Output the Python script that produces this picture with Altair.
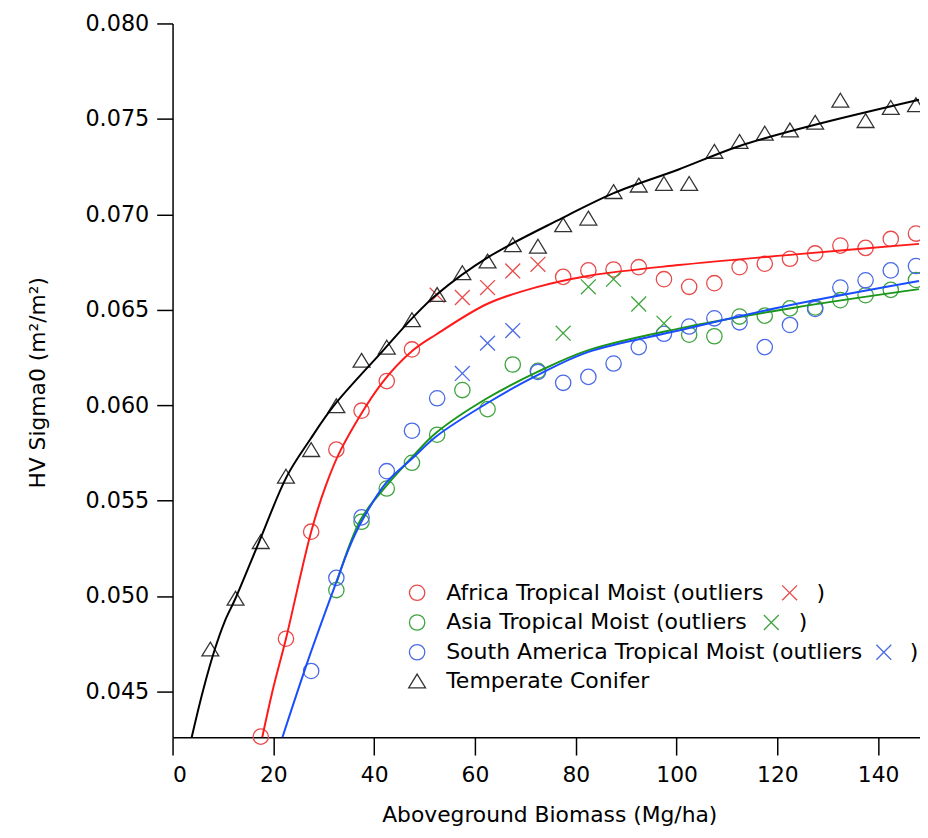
import altair as alt
import pandas as pd

# ---------------- data ----------------
series_names = ["Africa Tropical Moist", "Asia Tropical Moist",
                "South America Tropical Moist", "Temperate Conifer"]

africa_x = [17.5, 22.5, 27.5, 32.5, 37.5, 42.5, 47.5, 77.5, 82.5, 87.5, 92.5,
            97.5, 102.5, 107.5, 112.5, 117.5, 122.5, 127.5, 132.5, 137.5, 142.5, 147.5]
africa_y = [0.04263, 0.04776, 0.05337, 0.05767, 0.05971, 0.06126, 0.06292, 0.06672,
            0.06706, 0.06711, 0.06723, 0.06660, 0.06620, 0.06639, 0.06723, 0.06741,
            0.06767, 0.06795, 0.06836, 0.06824, 0.06871, 0.06899]
africa_out_x = [52.5, 57.5, 62.5, 67.5, 72.5]
africa_out_y = [0.06576, 0.06564, 0.06616, 0.06703, 0.06738]

asia_x = [32.5, 37.5, 42.5, 47.5, 52.5, 57.5, 62.5, 67.5, 72.5, 102.5, 107.5,
          112.5, 117.5, 122.5, 127.5, 132.5, 137.5, 142.5, 147.5]
asia_y = [0.05031, 0.05389, 0.05563, 0.05698, 0.05845, 0.06079, 0.05979, 0.06213,
          0.06180, 0.06369, 0.06361, 0.06464, 0.06469, 0.06507, 0.06512, 0.06550,
          0.06576, 0.06604, 0.06656]
asia_out_x = [77.5, 82.5, 87.5, 92.5, 97.5]
asia_out_y = [0.06377, 0.06620, 0.06660, 0.06530, 0.06429]

samerica_x = [27.5, 32.5, 37.5, 42.5, 47.5, 52.5, 72.5, 77.5, 82.5, 87.5, 92.5,
              97.5, 102.5, 107.5, 112.5, 117.5, 122.5, 127.5, 132.5, 137.5, 142.5, 147.5]
samerica_y = [0.04607, 0.05095, 0.05412, 0.05654, 0.05866, 0.06036, 0.06174, 0.06117,
              0.06148, 0.06218, 0.06304, 0.06374, 0.06412, 0.06455, 0.06434, 0.06304,
              0.06420, 0.06504, 0.06616, 0.06654, 0.06706, 0.06729]
samerica_out_x = [57.5, 62.5, 67.5]
samerica_out_y = [0.06166, 0.06325, 0.06391]

conifer_x = [7.5, 12.5, 17.5, 22.5, 27.5, 32.5, 37.5, 42.5, 47.5, 52.5, 57.5, 62.5,
             67.5, 72.5, 77.5, 82.5, 87.5, 92.5, 97.5, 102.5, 107.5, 112.5, 117.5,
             122.5, 127.5, 132.5, 137.5, 142.5, 147.5]
conifer_y = [0.04722, 0.04988, 0.05285, 0.05628, 0.05767, 0.05997, 0.06235, 0.06304,
             0.06448, 0.06580, 0.06694, 0.06755, 0.06841, 0.06833, 0.06945, 0.06980,
             0.07119, 0.07153, 0.07162, 0.07162, 0.07330, 0.07382, 0.07425, 0.07442,
             0.07482, 0.07598, 0.07491, 0.07560, 0.07574]

# fitted curves
africa_fit_x = [17.8, 20.0, 22.5, 27.5, 30.3, 33.4, 41.5, 47.7, 52.3, 62.4, 71.9, 82.4,
                100.4, 123.6, 148.1]
africa_fit_y = [0.0426, 0.0452, 0.04776, 0.05337, 0.0557, 0.05767, 0.06114, 0.06287,
                0.0637, 0.0653, 0.06616, 0.06677, 0.06734, 0.0679, 0.06845]
asia_fit_x = [32.6, 37.4, 42.5, 47.7, 52.3, 62.4, 72.4, 82.4, 100.4, 123.6, 148.1]
asia_fit_y = [0.05074, 0.05403, 0.0558, 0.05732, 0.05855, 0.06036, 0.06174, 0.06287,
              0.06401, 0.06512, 0.06608]
samerica_fit_x = [21.8, 27.05, 32.5, 35.0, 37.5, 42.4, 47.7, 52.3, 62.4, 72.4, 82.4,
                  100.4, 123.6, 148.1]
samerica_fit_y = [0.0426, 0.04676, 0.05074, 0.0525, 0.0539, 0.05594, 0.05724, 0.05836,
                  0.0601, 0.06157, 0.06278, 0.06391, 0.0653, 0.06651]
conifer_fit_x = [3.8, 6.0, 8.4, 10.4, 12.5, 17.2, 22.7, 27.3, 32.0, 41.8, 47.7, 52.4,
                 62.4, 77.3, 87.4, 100.4, 112.5, 126.9, 148.1]
conifer_fit_y = [0.0426, 0.0450, 0.04722, 0.0487, 0.04988, 0.05285, 0.05628, 0.0582,
                 0.05997, 0.06287, 0.0646, 0.0658, 0.06772, 0.0698, 0.0711, 0.07235,
                 0.07358, 0.07465, 0.076]

x_ticks = [0, 20, 40, 60, 80, 100, 120, 140]
y_ticks = [0.045, 0.050, 0.055, 0.060, 0.065, 0.070, 0.075, 0.080]

legend_labels = ["Africa Tropical Moist (outliers", "Asia Tropical Moist (outliers",
                 "South America Tropical Moist (outliers", "Temperate Conifer"]

# ---------------- styles ----------------
line_colors = ["#ff1a1a", "#1a961a", "#1a4dff", "#000000"]
marker_colors = ["#e84a4a", "#3fa43f", "#4a6ae6", "#333333"]
CROSS = "M-1,-1L1,1M-1,1L1,-1"
TRI = "M0,-0.82L1,0.82L-1,0.82Z"
FONT = "DejaVu Sans"

W, H = 754, 720

X = alt.X("x:Q", scale=alt.Scale(domain=[0, 148.3], nice=False, zero=False),
          axis=alt.Axis(values=x_ticks, title="Aboveground Biomass (Mg/ha)",
                        labelFontSize=22, tickSize=18, labelPadding=10,
                        titleFontSize=22, titleX=380, titleY=78,
                        titleBaseline="middle", titleAlign="center"))
Y = alt.Y("y:Q", scale=alt.Scale(domain=[0.0426, 0.080], nice=False, zero=False),
          axis=alt.Axis(values=y_ticks, format=".3f", title="HV Sigma0 (m²/m²)",
                        labelFontSize=22.5, tickSize=16, labelPadding=8,
                        titleFontSize=22, titleX=-136, titleY=362, titleAngle=270,
                        titleBaseline="middle", titleAlign="center"))

def df(xs, ys):
    return pd.DataFrame({"x": xs, "y": ys})

layers = []
circle_sets = [(africa_x, africa_y), (asia_x, asia_y), (samerica_x, samerica_y)]
out_sets = [(africa_out_x, africa_out_y), (asia_out_x, asia_out_y),
            (samerica_out_x, samerica_out_y)]
fit_sets = [(africa_fit_x, africa_fit_y), (asia_fit_x, asia_fit_y),
            (samerica_fit_x, samerica_fit_y), (conifer_fit_x, conifer_fit_y)]

for i, (xs, ys) in enumerate(circle_sets):
    layers.append(alt.Chart(df(xs, ys)).mark_point(
        shape="circle", filled=False, size=240, strokeWidth=1.3, opacity=1,
        color=marker_colors[i]).encode(x=X, y=Y))
for i, (xs, ys) in enumerate(out_sets):
    layers.append(alt.Chart(df(xs, ys)).mark_point(
        shape=CROSS, filled=False, size=225, strokeWidth=1.3, opacity=1,
        color=marker_colors[i]).encode(x=X, y=Y))
layers.append(alt.Chart(df(conifer_x, conifer_y)).mark_point(
    shape=TRI, filled=False, size=289, strokeWidth=1.3, opacity=1,
    color=marker_colors[3]).encode(x=X, y=Y))
for i, (xs, ys) in enumerate(fit_sets):
    layers.append(alt.Chart(df(xs, ys)).mark_line(
        interpolate="catmull-rom", strokeWidth=2, color=line_colors[i]).encode(x=X, y=Y))

# ---------------- legend ----------------
row_y = [574.3, 604.3, 634.3, 663.3]
sym_x, text_x = 246.7, 276
cross_x = [622.5, 604, 717.5]
paren_x = [654, 636, 748]
for i, lab in enumerate(legend_labels):
    d = pd.DataFrame({"label": [lab]})
    shape = TRI if i == 3 else "circle"
    size = 289 if i == 3 else 240
    layers.append(alt.Chart(d).mark_point(
        shape=shape, filled=False, size=size, strokeWidth=1.3, opacity=1,
        color=marker_colors[i]).encode(x=alt.value(sym_x), y=alt.value(row_y[i])))
    layers.append(alt.Chart(d).mark_text(
        align="left", baseline="middle", font=FONT, fontSize=22.2, color="black"
    ).encode(x=alt.value(text_x), y=alt.value(row_y[i]), text="label:N"))
    if i < 3:
        layers.append(alt.Chart(d).mark_point(
            shape=CROSS, filled=False, size=225, strokeWidth=1.3, opacity=1,
            color=marker_colors[i]).encode(x=alt.value(cross_x[i]), y=alt.value(row_y[i])))
        layers.append(alt.Chart(d).mark_text(
            text=")", align="center", baseline="middle", font=FONT, fontSize=22.2,
            color="black").encode(x=alt.value(paren_x[i]), y=alt.value(row_y[i])))

chart = alt.layer(*layers).properties(
    width=W, height=H,
    autosize=alt.AutoSizeParams(type="none"),
    padding={"left": 166, "top": 12, "right": 0, "bottom": 88},
).configure_view(stroke=None).configure_axis(
    grid=False, domainColor="black", tickColor="black", labelColor="black",
    titleColor="black", domainWidth=1.5, tickWidth=1.5, labelFont=FONT,
    titleFont=FONT, titleFontWeight="normal",
)

chart.save("out.html", embed_options={"renderer": "svg", "actions": False})
